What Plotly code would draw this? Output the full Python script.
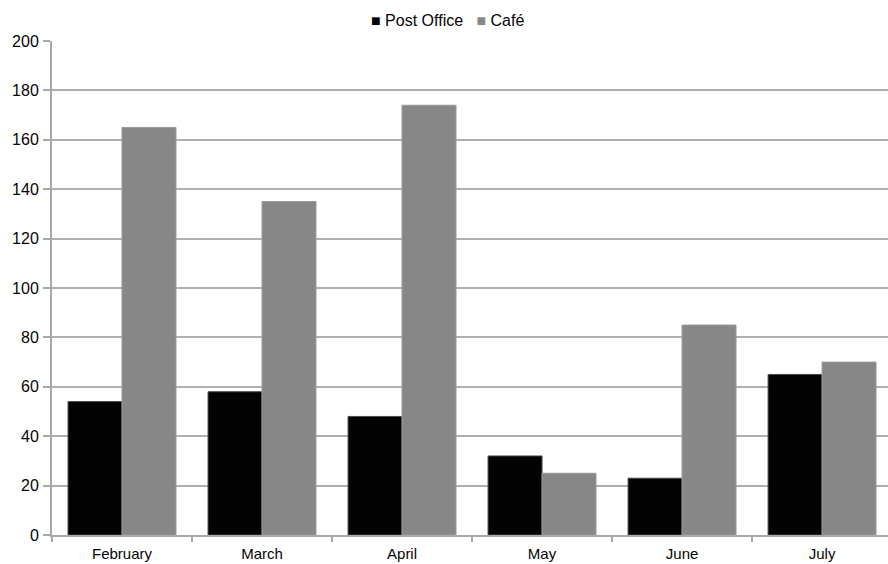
import plotly.graph_objects as go

months = ["February", "March", "April", "May", "June", "July"]
post_office = [54, 58, 48, 32, 23, 65]
cafe = [165, 135, 174, 25, 85, 70]
y_ticks = [0, 20, 40, 60, 80, 100, 120, 140, 160, 180, 200]

series_names = ["Post Office", "Café"]
series_colors = ["#030303", "#878787"]
series_edges = ["#4a4a4a", "#9a9a9a"]

FAMILY = "Liberation Sans, Arial, sans-serif"

fig = go.Figure()
for name, vals, col, edge in zip(series_names, [post_office, cafe], series_colors, series_edges):
    fig.add_trace(go.Bar(
        name=name, x=months, y=vals,
        marker=dict(color=col, line=dict(color=edge, width=1)),
        showlegend=False,
    ))

# Compact legend row: small coloured squares followed by the series names
legend_parts = []
for name, col in zip(series_names, series_colors):
    legend_parts.append(
        f"<span style='color:{col};font-size:16px'>■</span> {name}"
    )
legend_text = "&nbsp;&nbsp;&nbsp;".join(legend_parts)

fig.add_annotation(
    text=legend_text, xref="paper", yref="paper",
    x=0.473, y=1.0, xanchor="center", yanchor="bottom", yshift=10,
    showarrow=False,
    font=dict(family=FAMILY, size=16, color="#050505"),
)

tick_font = dict(family=FAMILY, size=15, color="#050505")

fig.update_layout(
    width=888, height=564,
    margin=dict(l=52, r=0, t=41, b=29),
    paper_bgcolor="white", plot_bgcolor="white",
    barmode="group", bargap=0.229, bargroupgap=0,
    font=tick_font,
    showlegend=False,
    xaxis=dict(
        range=[-0.5, 5.471], showgrid=False, automargin=False,
        showline=True, linecolor="#a8a8a8", linewidth=2,
        ticks="outside", tickson="boundaries", ticklen=5, tickcolor="#a8a8a8", tickwidth=2,
        tickfont=tick_font, ticklabelstandoff=4,
    ),
    yaxis=dict(
        range=[0, 200], tickvals=y_ticks, showgrid=True, gridcolor="#b0b0b0", gridwidth=2,
        showline=True, linecolor="#a8a8a8", linewidth=2, automargin=False,
        zeroline=False,
        ticks="outside", ticklen=7, tickcolor="#a8a8a8", tickwidth=2,
        tickfont=dict(family=FAMILY, size=16, color="#050505"), ticklabelstandoff=1,
    ),
)

fig.write_html("out.html")
